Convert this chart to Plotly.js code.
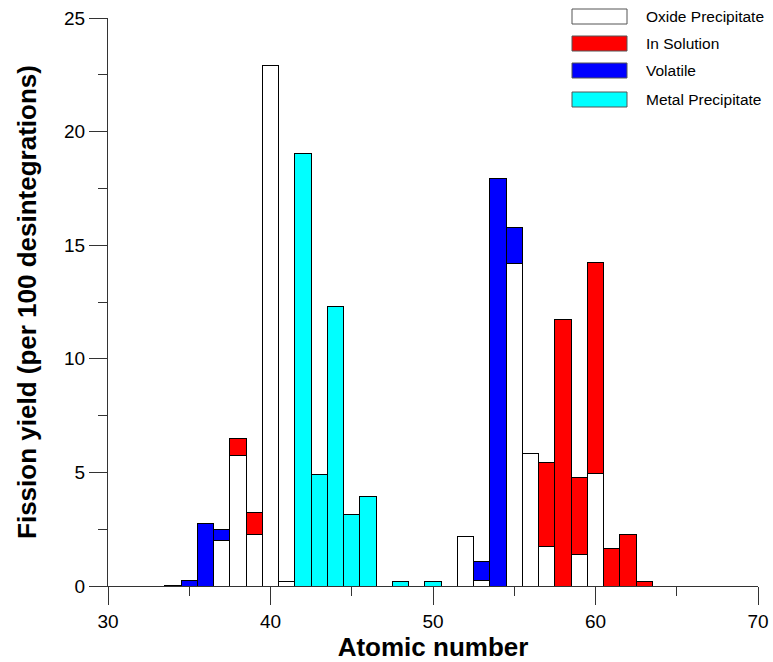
<!DOCTYPE html>
<html>
<head>
<meta charset="utf-8">
<script src="https://cdn.plot.ly/plotly-3.0.1.min.js"></script>
<style>html,body{margin:0;padding:0;background:#fff;}#chart{width:773px;height:662px;}</style>
</head>
<body>
<div id="chart"></div>
<script>
// Atomic numbers (Z)
var atomicNumber = [34,35,36,37,38,39,40,41,42,43,44,45,46,47,48,49,50,51,52,53,54,55,56,57,58,59,60,61,62,63];
// Fission yield per series (per 100 desintegrations)
var oxidePrecipitate = [0,0,0,2.0,5.74,2.27,22.92,0.22,0,0,0,0,0,0,0,0,0,0,2.16,0.25,0,14.19,5.85,1.76,0,1.38,4.97,0,0,0];
var inSolution       = [0,0,0,0,0.77,0.97,0,0,0,0,0,0,0,0,0,0,0,0,0,0,0,0,0,3.67,11.74,3.40,9.26,1.63,2.27,0.21];
var volatile         = [0,0.23,2.73,0.5,0,0,0,0,0,0,0,0,0,0,0,0,0,0,0,0.84,17.93,1.57,0,0,0,0,0,0,0,0];
var metalPrecipitate = [0.03,0,0,0,0,0,0,0,19.03,4.89,12.31,3.16,3.92,0,0.2,0,0.2,0,0,0,0,0,0,0,0,0,0,0,0,0];
var seriesNames  = ["Oxide Precipitate","In Solution","Volatile","Metal Precipitate"];
var seriesColors = ["#ffffff","#ff0000","#0000ff","#00ffff"];
var seriesValues = [oxidePrecipitate,inSolution,volatile,metalPrecipitate];
var xTickVals = [30,40,50,60,70];
var yTickVals = [0,5,10,15,20,25];

var traces = seriesValues.map(function(v,i){
  return {
    type:'bar', name:seriesNames[i], x:atomicNumber, y:v, width:1,
    marker:{color:seriesColors[i], line:{color:'#000000', width:1}},
    showlegend:false, hoverinfo:'x+y+name'
  };
});

// manual legend (wide boxes as in the reference)
var shapes = [], annotations = [];
var legTop = [9,36,63,92];
seriesNames.forEach(function(n,i){
  shapes.push({type:'rect', xref:'paper', yref:'paper',
    x0:(572-108)/650, x1:(627-108)/650,
    y0:(586-legTop[i]-15)/568, y1:(586-legTop[i])/568,
    fillcolor:seriesColors[i], line:{color:'#555555', width:1}});
  annotations.push({xref:'paper', yref:'paper', x:(644-108)/650, y:(586-legTop[i]-7.5)/568,
    xanchor:'left', yanchor:'middle', showarrow:false, text:n,
    font:{family:'Liberation Sans, Arial, sans-serif', size:15.5, color:'#000'}});
});

var layout = {
  width:773, height:662,
  margin:{l:108, r:15, t:18, b:76, pad:0},
  paper_bgcolor:'#ffffff', plot_bgcolor:'#ffffff',
  barmode:'stack', bargap:0,
  font:{family:'Liberation Sans, Arial, sans-serif', color:'#000'},
  xaxis:{
    range:[30,70], tickvals:xTickVals, ticktext:xTickVals.map(String),
    ticks:'outside', ticklen:18, tickwidth:1, tickcolor:'#333',
    minor:{dtick:5, tick0:0, ticks:'outside', ticklen:9, tickwidth:1, tickcolor:'#333', showgrid:false},
    showline:true, linecolor:'#333', linewidth:1, showgrid:false, zeroline:false,
    tickfont:{size:19}, fixedrange:true,
    title:{text:'<b>Atomic number</b>', font:{size:26}, standoff:4}
  },
  yaxis:{
    range:[0,25], tickvals:yTickVals, ticktext:yTickVals.map(String),
    ticks:'outside', ticklen:18, tickwidth:1, tickcolor:'#333',
    minor:{dtick:2.5, tick0:0, ticks:'outside', ticklen:9, tickwidth:1, tickcolor:'#333', showgrid:false},
    showline:true, linecolor:'#333', linewidth:1, showgrid:false, zeroline:false,
    tickfont:{size:19}, fixedrange:true,
    title:{text:'<b>Fission yield (per 100 desintegrations)</b>', font:{size:26}, standoff:19}
  },
  shapes:shapes, annotations:annotations
};
Plotly.newPlot('chart', traces, layout, {displayModeBar:false, staticPlot:true});
</script>
</body>
</html>
